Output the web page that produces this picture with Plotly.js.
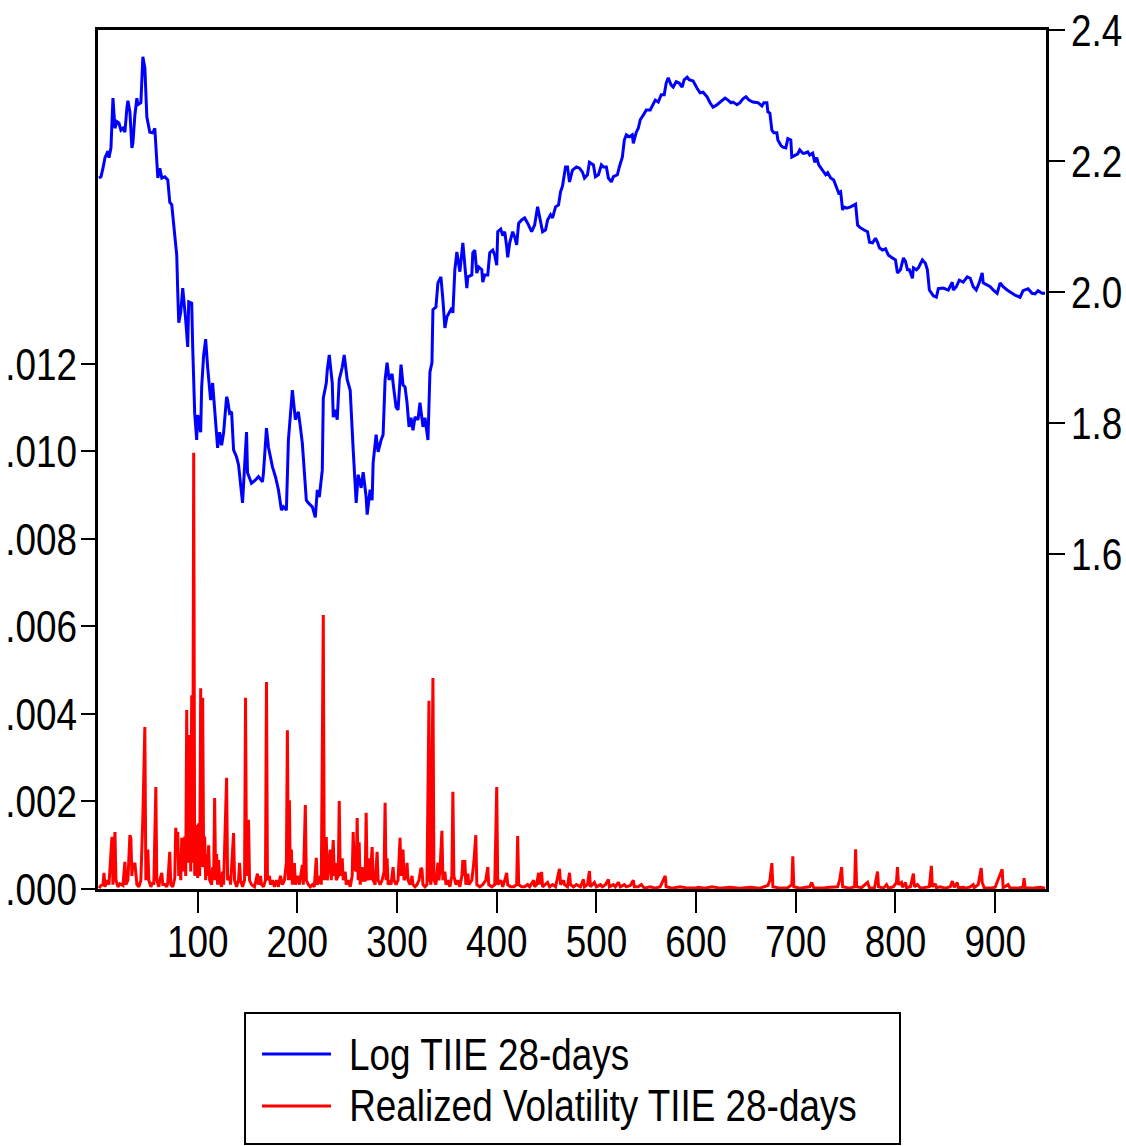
<!DOCTYPE html>
<html>
<head>
<meta charset="utf-8">
<script src="https://cdn.plot.ly/plotly-3.0.1.min.js"></script>
<style>
  html, body { margin: 0; padding: 0; background: #ffffff; }
  #chart { width: 1126px; height: 1146px; }
</style>
</head>
<body>
<div id="chart"></div>
<script>
// Log of the 28-day TIIE rate (right axis), observation number -> value
const logObs = [1,3,5,7,10,11,13,15,17,19,21,23,25,27,29,30,32,34,35,37,39,40,43,45,47,48,49,52,55,57,59,60,62,64,67,70,72,74,76,79,80,81,83,85,88,90,91,94,95,97,99,100,103,104,106,108,110,113,115,117,119,120,122,124,126,129,130,132,134,136,139,141,145,149,150,154,158,161,165,166,169,171,175,178,181,184,186,189,191,195,198,201,203,205,209,211,215,218,220,222,225,226,229,230,232,235,236,238,240,242,245,247,250,253,256,259,261,264,266,269,270,273,275,276,279,281,284,286,288,290,292,295,296,299,301,304,306,308,310,312,314,316,318,321,323,326,328,331,333,335,336,339,341,344,346,348,350,352,355,356,358,360,361,363,366,368,370,371,375,376,378,380,382,385,386,388,391,393,396,398,400,401,404,406,408,410,411,413,416,418,420,422,425,428,431,435,438,441,444,446,449,451,454,456,459,462,464,466,469,471,473,476,480,483,486,488,491,493,497,499,502,505,507,510,512,515,517,521,523,526,528,530,533,536,537,540,542,544,547,550,554,557,559,562,565,568,570,572,575,577,580,583,586,588,591,593,597,601,604,607,611,614,617,621,626,629,632,635,637,641,644,647,650,653,657,662,666,668,671,672,674,676,678,681,682,685,687,690,692,695,696,699,702,704,707,709,712,714,717,719,721,723,727,730,732,735,738,741,743,745,747,748,751,755,760,762,764,768,772,774,777,780,782,784,787,790,793,797,800,802,805,808,810,812,814,817,818,821,823,827,830,832,834,838,841,843,848,853,857,858,861,864,868,872,875,878,881,884,887,888,892,895,898,902,905,908,912,915,920,925,928,933,937,940,943,947,950];
const logTiie = [2.174,2.176,2.189,2.205,2.215,2.205,2.220,2.296,2.250,2.260,2.258,2.247,2.250,2.244,2.281,2.292,2.275,2.220,2.227,2.270,2.296,2.286,2.289,2.359,2.342,2.290,2.267,2.244,2.243,2.250,2.194,2.174,2.189,2.174,2.176,2.171,2.137,2.133,2.102,2.056,2.000,1.953,1.969,2.006,1.957,1.916,1.985,1.983,1.916,1.815,1.774,1.812,1.786,1.855,1.904,1.928,1.885,1.835,1.861,1.815,1.774,1.762,1.786,1.766,1.785,1.840,1.835,1.815,1.817,1.759,1.748,1.736,1.678,1.786,1.724,1.708,1.713,1.718,1.710,1.724,1.792,1.763,1.733,1.718,1.698,1.667,1.672,1.667,1.774,1.850,1.805,1.817,1.794,1.769,1.682,1.678,1.672,1.656,1.698,1.687,1.728,1.838,1.861,1.881,1.904,1.861,1.809,1.820,1.805,1.866,1.885,1.904,1.866,1.850,1.759,1.678,1.721,1.701,1.725,1.687,1.660,1.698,1.682,1.739,1.782,1.756,1.774,1.782,1.866,1.892,1.866,1.875,1.861,1.824,1.820,1.889,1.858,1.855,1.831,1.794,1.808,1.789,1.809,1.805,1.831,1.794,1.808,1.774,1.878,1.892,1.973,1.977,2.014,2.023,1.988,1.945,1.962,1.968,1.976,1.968,2.034,2.061,2.049,2.031,2.075,2.037,2.006,2.023,2.026,2.060,2.064,2.029,2.038,2.034,2.015,2.026,2.026,2.060,2.064,2.056,2.041,2.092,2.096,2.086,2.092,2.069,2.053,2.075,2.092,2.084,2.072,2.105,2.110,2.113,2.105,2.092,2.102,2.130,2.110,2.092,2.095,2.110,2.118,2.113,2.130,2.133,2.153,2.162,2.191,2.191,2.168,2.186,2.191,2.189,2.183,2.174,2.179,2.198,2.194,2.176,2.179,2.194,2.191,2.191,2.174,2.168,2.176,2.179,2.191,2.206,2.232,2.240,2.237,2.240,2.227,2.244,2.250,2.263,2.270,2.278,2.278,2.286,2.293,2.290,2.301,2.301,2.319,2.327,2.316,2.313,2.321,2.319,2.313,2.324,2.328,2.324,2.322,2.311,2.304,2.305,2.298,2.289,2.282,2.286,2.293,2.296,2.293,2.289,2.290,2.286,2.289,2.295,2.298,2.293,2.290,2.289,2.284,2.289,2.289,2.275,2.273,2.247,2.243,2.243,2.232,2.224,2.221,2.220,2.234,2.232,2.206,2.209,2.211,2.217,2.212,2.212,2.214,2.209,2.212,2.198,2.205,2.194,2.186,2.179,2.182,2.174,2.171,2.160,2.151,2.153,2.125,2.130,2.128,2.130,2.134,2.102,2.099,2.095,2.092,2.076,2.075,2.082,2.076,2.067,2.064,2.066,2.056,2.052,2.049,2.029,2.034,2.052,2.047,2.034,2.034,2.021,2.037,2.034,2.037,2.049,2.044,2.034,2.003,1.994,1.992,2.005,2.006,2.003,2.015,2.003,2.008,2.018,2.015,2.023,2.021,2.008,2.003,2.014,2.029,2.014,2.011,2.008,2.003,1.998,2.014,2.008,2.003,2.000,1.995,1.992,2.002,2.005,1.998,1.997,2.002,1.998,1.998];

// Realized volatility of the 28-day TIIE (left axis), observation number -> value
const volObs = [1,3,5,6,7,9,11,12,14,15,17,18,20,22,24,25,27,28,30,32,33,34,35,36,37,39,41,43,45,47,48,50,51,53,55,56,58,59,61,62,64,65,67,69,70,72,73,75,77,78,79,80,81,82,83,84,85,87,88,89,90,91,92,93,94,95,96,97,98,99,100,101,102,103,104,105,106,107,108,109,110,111,112,114,115,116,117,118,119,120,121,122,124,125,126,129,130,132,133,136,137,139,141,142,143,145,147,148,149,151,152,154,157,160,161,163,164,166,168,169,170,172,173,175,177,179,181,183,185,187,189,190,191,192,193,194,195,197,198,200,202,205,206,208,209,211,213,215,217,219,220,222,223,224,226,227,229,230,232,233,234,236,237,238,239,241,242,243,245,246,248,249,251,253,255,256,257,259,260,261,262,263,265,266,268,269,270,272,273,275,276,278,280,281,283,285,287,288,289,290,291,293,294,296,297,299,301,303,304,306,307,309,310,311,313,315,316,318,320,322,324,325,326,328,330,332,333,334,336,337,339,341,342,343,345,346,348,349,351,353,355,356,357,359,361,363,365,366,367,368,369,371,372,375,377,379,380,383,386,389,391,392,395,398,400,401,404,406,408,410,411,414,417,420,421,422,425,428,431,433,437,438,440,442,443,445,446,449,451,453,456,459,463,464,467,468,471,473,474,477,480,484,487,488,491,493,494,498,500,504,506,509,512,513,517,519,522,524,528,530,534,537,538,542,545,548,554,559,564,569,570,576,584,592,599,602,609,616,624,634,644,654,664,672,674,676,677,684,692,696,697,698,704,714,716,718,726,734,742,744,746,747,754,759,760,761,766,772,774,779,782,783,788,791,793,798,801,802,803,806,807,810,811,815,818,819,822,825,830,834,836,837,840,841,845,850,855,857,859,862,863,868,871,875,878,879,883,886,887,889,895,900,907,908,913,915,922,928,929,930,937,945,950];
const realVol = [0.00002,0.00008,0.0001,0.00037,0.00005,0.0002,0.0001,0.00045,0.00119,0.0001,0.0013,0.0002,0.00005,0.00012,0.0001,0.00008,0.00062,0.0001,0.0002,0.00123,0.00115,0.0003,0.0006,0.00045,0.0006,0.0001,0.00005,0.0002,0.00165,0.0037,0.0002,0.0009,0.0002,0.00005,0.00015,0.0001,0.00233,0.0002,0.00005,0.0002,0.00037,0.0001,0.0001,0.00005,0.00015,0.00085,0.0001,0.00005,0.00025,0.0014,0.0011,0.0013,0.0003,0.0008,0.0002,0.00117,0.0004,0.0012,0.0003,0.00409,0.0006,0.0012,0.00352,0.0004,0.00443,0.0006,0.00997,0.0003,0.00146,0.0008,0.00025,0.0015,0.0003,0.00459,0.0005,0.00437,0.0005,0.0012,0.0002,0.0008,0.0003,0.001,0.0002,0.0001,0.0005,0.0002,0.00208,0.0002,0.0008,0.0001,0.00066,0.0002,0.00005,0.0004,0.0001,0.00254,0.0002,0.0003,0.0001,0.00128,0.0002,0.00005,0.0002,0.0006,0.0002,0.00005,0.0002,0.00437,0.0003,0.00158,0.0002,0.0001,0.00005,0.00035,0.0001,0.0003,0.0001,0.00005,0.0002,0.00473,0.0002,0.0003,0.0001,0.0002,0.00005,0.0002,0.00005,0.0003,0.0001,0.0002,0.0006,0.00363,0.0002,0.00203,0.0002,0.0009,0.0001,0.00059,0.0001,0.0003,0.0001,0.00055,0.0001,0.00192,0.0002,0.0001,0.00005,0.0001,0.00005,0.00071,0.0001,0.0002,0.0003,0.0001,0.00626,0.0002,0.00119,0.0002,0.0006,0.0009,0.0002,0.00112,0.0003,0.0006,0.0002,0.0003,0.00201,0.0003,0.0007,0.0002,0.0004,0.0001,0.0002,0.00005,0.0003,0.0013,0.0005,0.0004,0.00162,0.0002,0.00107,0.0001,0.0005,0.0002,0.0002,0.00174,0.0002,0.0007,0.0002,0.00096,0.0002,0.0001,0.00085,0.0002,0.0001,0.0002,0.0004,0.00197,0.0002,0.0007,0.0001,0.0002,0.0001,0.0005,0.0002,0.0001,0.0002,0.00117,0.0003,0.0009,0.0002,0.0003,0.0006,0.0002,0.0001,0.0003,0.0001,0.00005,0.0001,0.0002,0.00048,0.00045,0.0001,0.00005,0.0001,0.0043,0.0002,0.0001,0.00482,0.0002,0.0001,0.0006,0.0002,0.0004,0.00133,0.0002,0.0004,0.0001,0.0002,0.00005,0.0003,0.00222,0.0003,0.0001,0.0002,0.00005,0.0003,0.00066,0.0003,0.00066,0.0001,0.00035,0.0001,0.0002,0.0006,0.00123,0.0001,0.00005,0.0001,0.0002,0.0005,0.0001,0.00005,0.0001,0.00233,0.0001,0.0002,0.00005,0.0002,0.00037,0.0001,0.00005,0.00005,0.0001,0.00121,0.0001,0.00005,0.00005,0.0001,0.00005,0.0002,0.00005,0.0001,0.00037,0.0001,0.00039,0.00005,0.0001,0.00015,0.00005,0.0001,0.00005,0.00046,0.0001,0.0002,0.0001,0.00005,0.00037,0.0001,0.00005,0.0001,0.00005,0.00022,0.00005,0.0001,0.00041,0.00005,0.00015,0.00005,0.0001,0.00005,0.0001,0.00022,0.00005,0.0001,0.00005,0.00015,0.00005,0.0001,0.00005,0.00008,0.0002,0.00005,0.00005,0.0001,0.00002,0.00005,0.00002,0.00005,0.0003,0.00005,0.00002,0.00005,0.00002,0.00002,0.00004,0.00002,0.00005,0.00002,0.00004,0.00002,0.00004,0.00002,0.00008,0.0002,0.00059,0.00005,0.00002,0.00003,0.0001,0.00075,0.00005,0.00002,0.00005,0.00015,0.00003,0.00002,0.00004,0.00005,0.0002,0.0005,0.00005,0.00002,0.00005,0.00091,0.00005,0.00003,0.00015,0.00002,0.00003,0.0004,0.00005,0.00002,0.0001,0.00002,0.00005,0.00015,0.0005,0.0001,0.00015,0.00004,0.00015,0.00003,0.00005,0.00035,0.00005,0.0001,0.00002,0.00004,0.00005,0.00053,0.00005,0.00012,0.00003,0.00005,0.00002,0.00005,0.00018,0.00004,0.00015,0.00003,0.00004,0.00002,0.00005,0.0001,0.00003,0.0001,0.00048,0.00015,0.00003,0.00002,0.00004,0.00045,0.00003,0.0001,0.00002,0.00002,0.00004,0.00025,0.00003,0.00002,0.00004,0.00002];

// Axis ticks
const xTicks = [100, 200, 300, 400, 500, 600, 700, 800, 900];
const volTicks = [0, 0.002, 0.004, 0.006, 0.008, 0.010, 0.012];
const volTickText = ['.000', '.002', '.004', '.006', '.008', '.010', '.012'];
const logTicks = [1.6, 1.8, 2.0, 2.2, 2.4];
const logTickText = ['1.6', '1.8', '2.0', '2.2', '2.4'];

// Series names
const seriesNames = ['Log TIIE 28-days', 'Realized Volatility TIIE 28-days'];

const FONT = '"Liberation Sans", Arial, sans-serif';
const FONT_SIZE = 45;
const NARROW = 0.82;   // horizontal squeeze giving a narrow sans face
const BLUE = '#0000ff';
const RED = '#ff0000';

const traces = [
  {
    x: volObs, y: realVol, type: 'scatter', mode: 'lines',
    name: seriesNames[1], yaxis: 'y',
    line: { color: RED, width: 3 },
    hoverinfo: 'skip'
  },
  {
    x: logObs, y: logTiie, type: 'scatter', mode: 'lines',
    name: seriesNames[0], yaxis: 'y2',
    line: { color: BLUE, width: 3 },
    hoverinfo: 'skip'
  }
];

// Boxed key below the plot, drawn in paper coordinates
const keyBox = { x0: 0.1551, x1: 0.8460, y0: -0.2969, y1: -0.1444 };
const keyRows = [
  { y: -0.1921, color: BLUE, text: seriesNames[0] },
  { y: -0.2526, color: RED, text: seriesNames[1] }
];

const shapes = [
  { type: 'rect', xref: 'paper', yref: 'paper',
    x0: keyBox.x0, x1: keyBox.x1, y0: keyBox.y0, y1: keyBox.y1,
    line: { color: '#000000', width: 2 }, fillcolor: 'rgba(0,0,0,0)' }
].concat(keyRows.map(r => ({
  type: 'line', xref: 'paper', yref: 'paper',
  x0: 0.1730, x1: 0.2458, y0: r.y, y1: r.y,
  line: { color: r.color, width: 3 }
})));

const annotations = keyRows.map(r => ({
  xref: 'paper', yref: 'paper', x: 0.2627, y: r.y,
  xanchor: 'left', yanchor: 'middle', showarrow: false,
  text: r.text, font: { family: FONT, size: FONT_SIZE, color: '#000000' }
}));

const axisCommon = {
  showgrid: false, zeroline: false, showline: true,
  linecolor: '#000000', linewidth: 3,
  ticks: 'outside', tickcolor: '#000000', tickwidth: 2,
  tickfont: { family: FONT, size: FONT_SIZE, color: '#000000' }
};

const layout = {
  width: 1126, height: 1146,
  margin: { l: 98, r: 80, t: 30, b: 257, pad: 0 },
  paper_bgcolor: '#ffffff', plot_bgcolor: '#ffffff',
  showlegend: false,
  font: { family: FONT, size: FONT_SIZE, color: '#000000' },
  xaxis: Object.assign({}, axisCommon, {
    range: [0, 951], tickvals: xTicks, ticklen: 21, mirror: true,
    ticklabelstandoff: -10
  }),
  yaxis: Object.assign({}, axisCommon, {
    range: [0, 0.01963], tickvals: volTicks, ticktext: volTickText,
    ticklen: 14, mirror: true, ticklabelstandoff: -5
  }),
  yaxis2: Object.assign({}, axisCommon, {
    overlaying: 'y', side: 'right',
    range: [1.0885, 2.4], tickvals: logTicks, ticktext: logTickText,
    ticklen: 16, ticklabelstandoff: -3
  }),
  shapes: shapes,
  annotations: annotations
};

// Squeeze every label horizontally about its anchor point
function narrowLabels(gd) {
  gd.querySelectorAll('.xtick text, .ytick text, .y2tick text, .annotation-text').forEach(t => {
    const bb = t.getBBox();
    let ax;
    if (t.classList.contains('annotation-text')) {
      ax = bb.x;
    } else {
      const a = t.getAttribute('text-anchor');
      ax = a === 'start' ? bb.x : (a === 'end' ? bb.x + bb.width : bb.x + bb.width / 2);
    }
    const prev = t.getAttribute('transform') || '';
    t.setAttribute('transform',
      prev + ' translate(' + ax + ',0) scale(' + NARROW + ',1) translate(' + (-ax) + ',0)');
  });
}

const gd = document.getElementById('chart');
Plotly.newPlot(gd, traces, layout, { staticPlot: true, displayModeBar: false })
  .then(() => narrowLabels(gd));
</script>
</body>
</html>
